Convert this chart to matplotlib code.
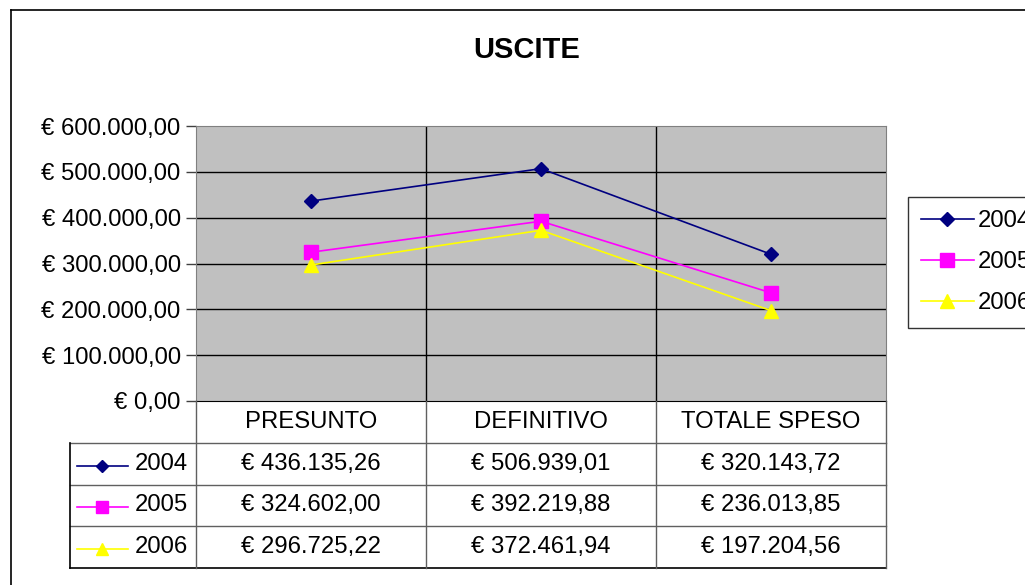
import matplotlib
matplotlib.use('Agg')
import matplotlib.pyplot as plt
from matplotlib.lines import Line2D

plt.rcParams['font.family'] = ['Liberation Sans', 'DejaVu Sans']

categories = ['PRESUNTO', 'DEFINITIVO', 'TOTALE SPESO']
years = ['2004', '2005', '2006']
v2004 = [436135.26, 506939.01, 320143.72]
v2005 = [324602.00, 392219.88, 236013.85]
v2006 = [296725.22, 372461.94, 197204.56]
yticks = [0, 100000, 200000, 300000, 400000, 500000, 600000]

series = [v2004, v2005, v2006]
colors = ['#000080', '#FF00FF', '#FFFF00']
markers = ['D', 's', '^']
msizes = [7, 10, 10]
fs = 17.2


def euro(v):
    s = '{:,.2f}'.format(v).replace(',', 'X').replace('.', ',').replace('X', '.')
    return '€ ' + s


W, H = 1025, 585
fig = plt.figure(figsize=(W / 100, H / 100), dpi=100)

# outer chart border (only top and left are inside the picture)
fig.add_artist(Line2D([11 / W, 11 / W], [0, 1 - 10 / H], color='black', lw=1.2))
fig.add_artist(Line2D([11 / W, 1], [1 - 10 / H, 1 - 10 / H], color='black', lw=1.2))

fig.text(527 / W, 1 - 50 / H, 'USCITE', ha='center', va='center',
         fontsize=21, fontweight='bold')

ax = fig.add_axes([196 / W, 184 / H, 690 / W, 275 / H])
ax.set_facecolor('#C0C0C0')
x = list(range(len(categories)))
for vals, c, m, ms, yr in zip(series, colors, markers, msizes, years):
    ax.plot(x, vals, color=c, marker=m, markersize=ms, lw=1.2, label=yr,
            zorder=3)
ax.set_xlim(-0.5, len(categories) - 0.5)
ax.set_ylim(0, 600000)
ax.set_yticks(yticks)
ax.set_yticklabels([euro(v) for v in yticks], fontsize=fs)
ax.set_xticks([])
ax.tick_params(axis='y', length=7, width=1, color='#404040', pad=4)
for v in yticks[1:-1]:
    ax.axhline(v, color='black', lw=1, zorder=1)
for xb in [0.5, 1.5]:
    ax.axvline(xb, color='black', lw=1, zorder=1)
for s in ['left', 'right', 'top']:
    ax.spines[s].set_color('#808080')
ax.spines['bottom'].set_color('black')

# data table under the plot
tl = 70
unit = 690 / 3
tax = fig.add_axes([tl / W, 17 / H, (886 - tl) / W, 167 / H])
x0 = -0.5 - (196 - tl) / unit
tax.set_xlim(x0, 2.5)
tax.set_ylim(4, 0)
tax.axis('off')
lc = '#606060'
for r in [1, 2, 3]:
    tax.plot([x0, 2.5], [r, r], color=lc, lw=1, clip_on=False)
tax.plot([x0, 2.5], [4, 4], color='black', lw=1.2, clip_on=False)
tax.plot([x0, x0], [1, 4], color='black', lw=1.2, clip_on=False)
for xb in [-0.5, 0.5, 1.5, 2.5]:
    tax.plot([xb, xb], [0, 4], color=lc, lw=1, clip_on=False)
for i, cat in enumerate(categories):
    tax.text(i, 0.5, cat, ha='center', va='center', fontsize=fs)
for r, (vals, c, m, ms, yr) in enumerate(zip(series, colors, markers, msizes, years)):
    y = r + 1.5
    tax.plot([x0 + 7 / unit, x0 + 58 / unit], [y + 0.05, y + 0.05], color=c, lw=1.2)
    tax.plot([x0 + 32 / unit], [y + 0.05], marker=m, color=c, markersize=ms * 0.85)
    tax.text(x0 + 118 / unit, y, yr, ha='right', va='center', fontsize=fs)
    for i, v in enumerate(vals):
        tax.text(i, y, euro(v), ha='center', va='center', fontsize=fs)

leg = fig.legend(loc='upper left', bbox_to_anchor=(908 / W, 1 - 197 / H),
                 fontsize=fs, frameon=True, fancybox=False, handlelength=2.2,
                 borderpad=0.55, labelspacing=0.8, handletextpad=0.15,
                 borderaxespad=0)
leg.get_frame().set_edgecolor('black')
leg.get_frame().set_linewidth(1)

fig.savefig('out.png', dpi=100)
